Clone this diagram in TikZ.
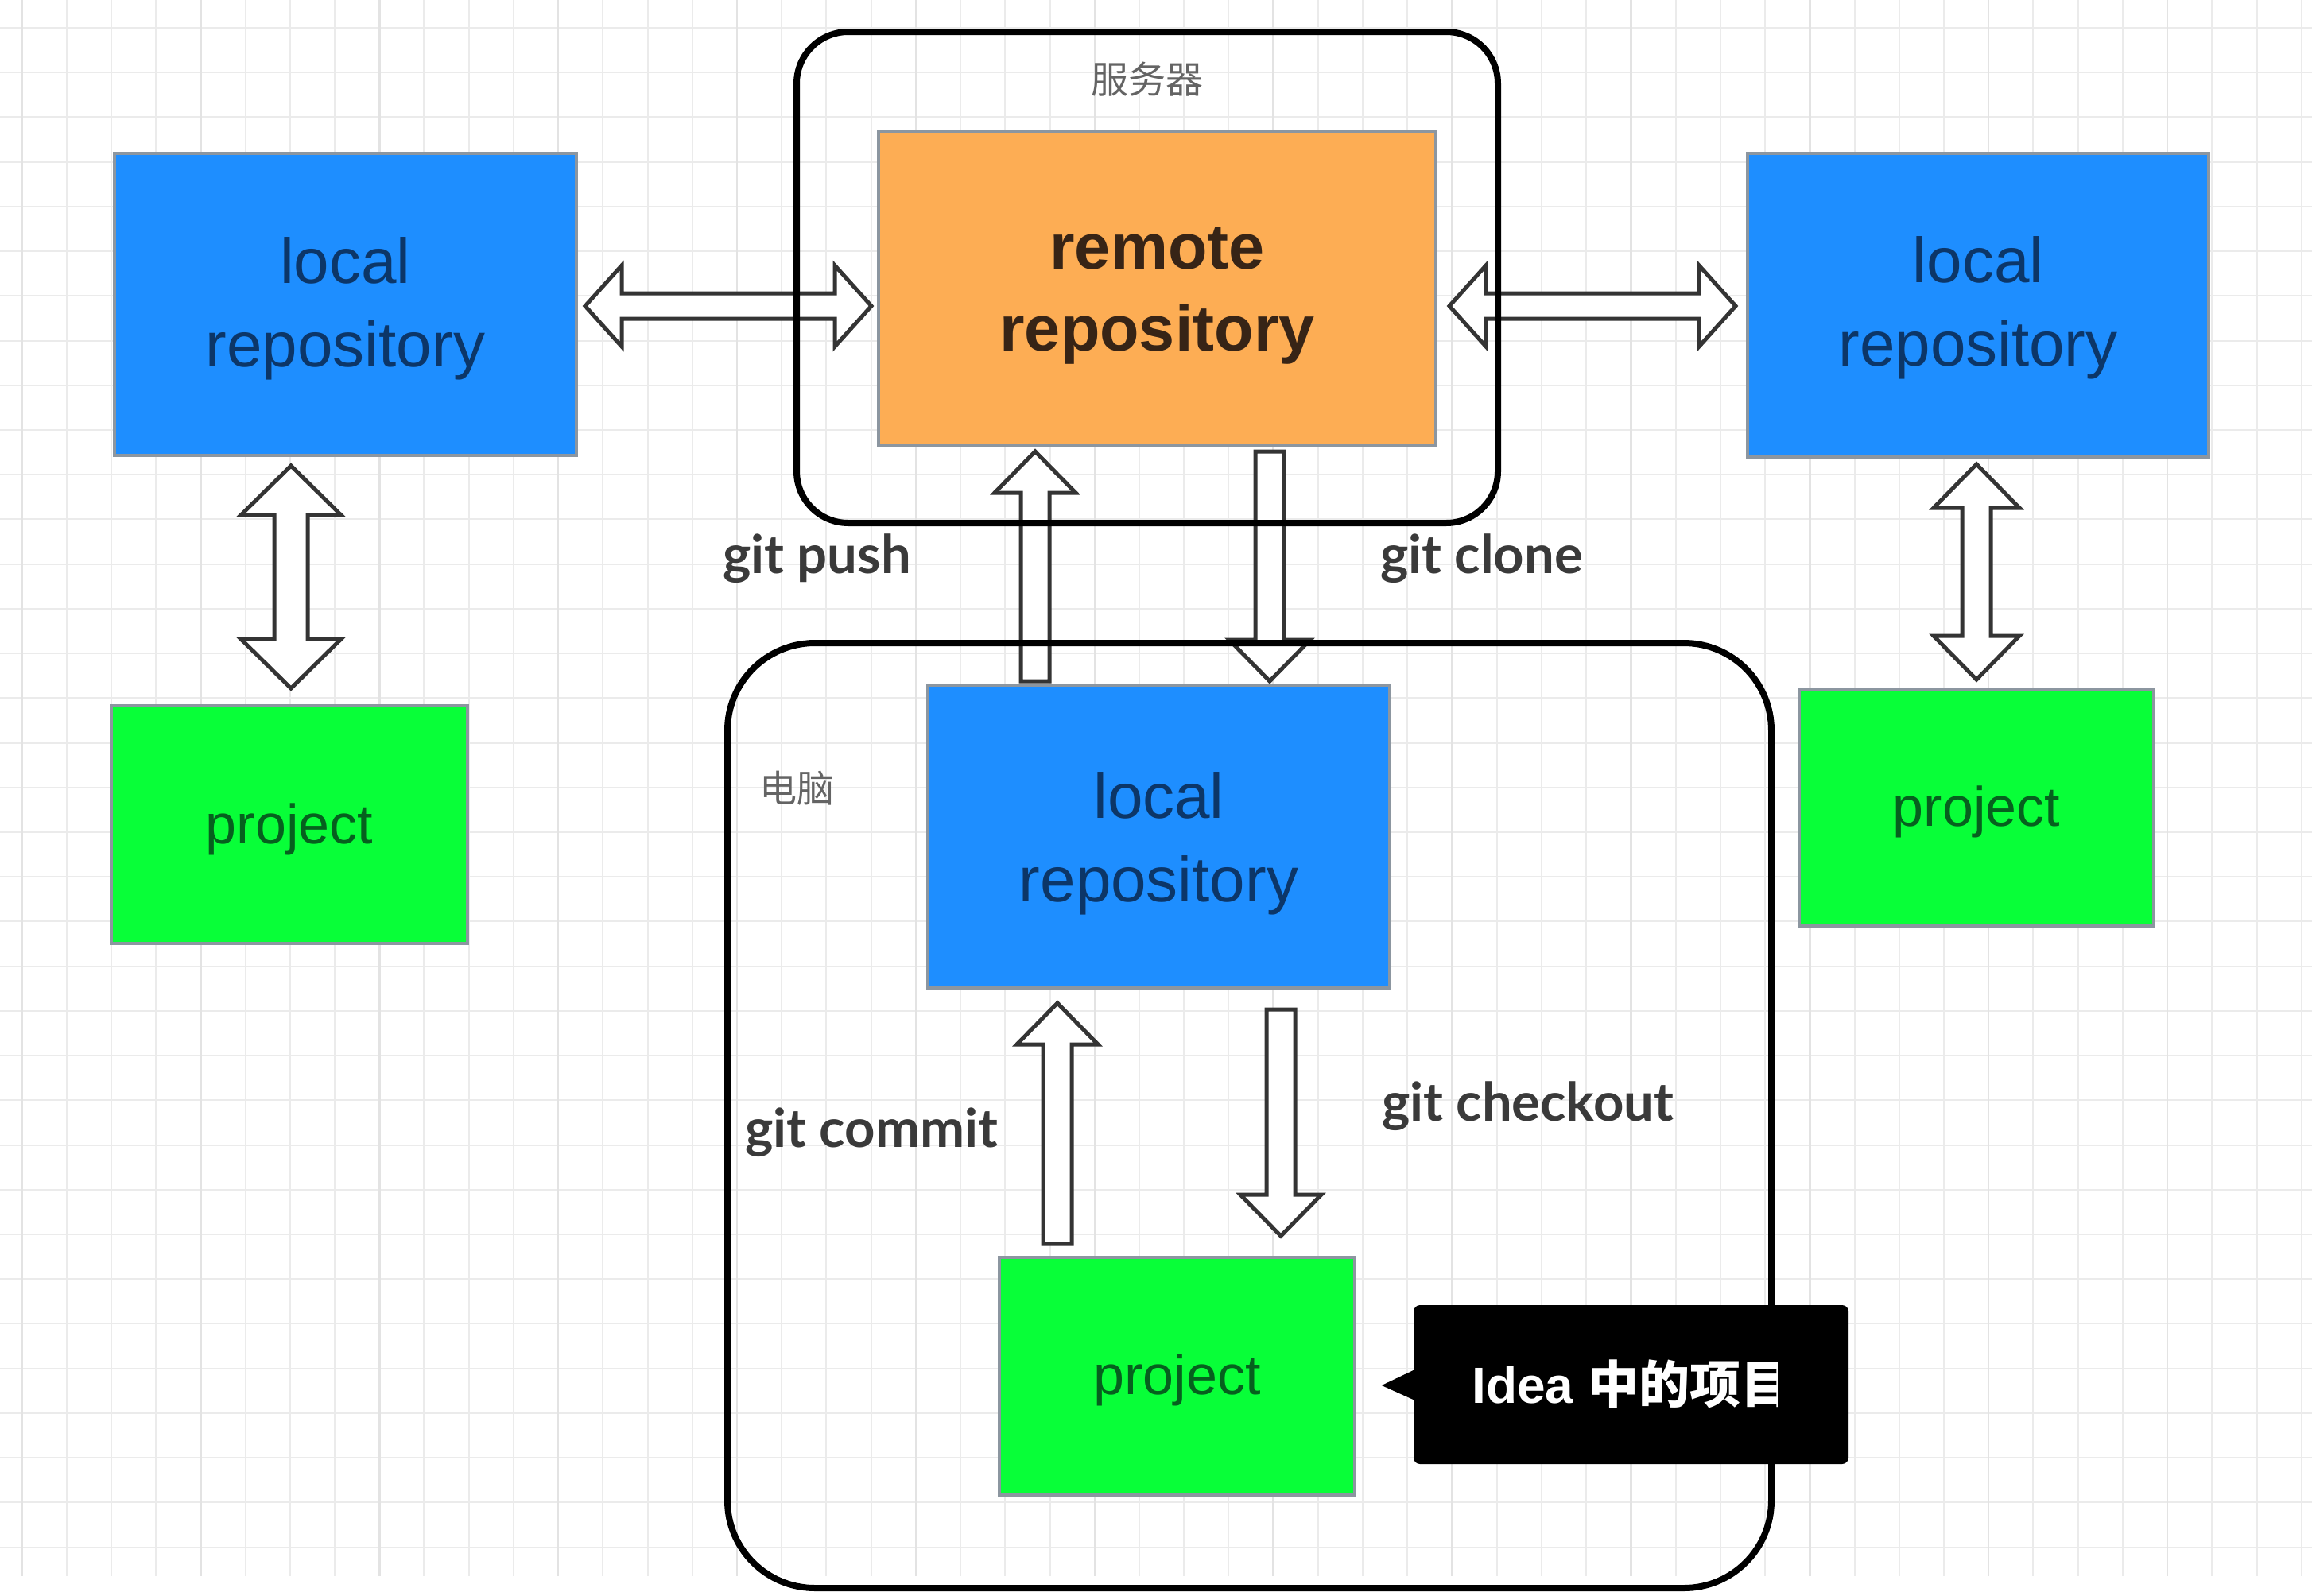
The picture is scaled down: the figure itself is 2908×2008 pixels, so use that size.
\documentclass[tikz,border=0pt]{standalone}
\usepackage{fontspec}
\setmainfont{Liberation Sans}
\newfontfamily\cjkfont{Noto Sans CJK SC}
\newfontfamily\labelfont{Lato}
\usetikzlibrary{calc}

\definecolor{repoblue}{RGB}{30,142,255}
\definecolor{remoteorange}{RGB}{253,173,84}
\definecolor{projgreen}{RGB}{8,255,56}
\definecolor{bluetext}{RGB}{12,54,104}
\definecolor{greentext}{RGB}{6,96,30}
\definecolor{orangetext}{RGB}{55,36,22}
\definecolor{boxedge}{RGB}{140,150,160}
\definecolor{arrowedge}{RGB}{52,52,52}
\definecolor{gridminor}{RGB}{235,235,235}
\definecolor{gridmajor}{RGB}{227,227,227}
\definecolor{labelgray}{RGB}{58,58,58}
\definecolor{capgray}{RGB}{100,100,100}

\tikzset{
  box/.style={rectangle, draw=boxedge, line width=4pt, inner sep=0pt},
  repobox/.style={box, fill=repoblue},
  remotebox/.style={box, fill=remoteorange},
  projbox/.style={box, fill=projgreen},
  repotext/.style={inner sep=0pt, align=center, text=bluetext,
    font=\fontsize{80}{105}\selectfont},
  remotetext/.style={inner sep=0pt, align=center, text=orangetext,
    font=\fontsize{81}{103}\selectfont\bfseries},
  projtext/.style={inner sep=0pt, text=greentext,
    font=\fontsize{70}{84}\selectfont},
  frame/.style={rectangle, draw=black, line width=8pt, inner sep=0pt},
  blockarrow/.style={draw=arrowedge, line width=5pt, fill=white, line join=miter},
  gitlabel/.style={anchor=base west, inner sep=0pt, text=labelgray,
    font=\labelfont\bfseries\fontsize{67}{80}\selectfont},
  caption/.style={inner sep=0pt, text=capgray,
    font=\cjkfont\fontsize{47}{56}\selectfont},
  gridminorline/.style={draw=gridminor, line width=2pt},
  gridmajorline/.style={draw=gridmajor, line width=2.5pt},
}

% arrow geometry: half shaft width, half head width, head length
\def\sw{18pt}
\def\hw{51pt}
\def\hl{52pt}

% hollow block arrow from tail #1 to tip #2
\newcommand\singlearrow[2]{%
  \coordinate (hb) at ($(#2)!\hl!(#1)$);
  \draw[blockarrow]
    ($(#1)!\sw!90:(#2)$) -- ($(hb)!\sw!90:(#2)$) -- ($(hb)!\hw!90:(#2)$) --
    (#2) --
    ($(hb)!\hw!-90:(#2)$) -- ($(hb)!\sw!-90:(#2)$) -- ($(#1)!\sw!-90:(#2)$) -- cycle;
}
% hollow block arrow with heads at both #1 and #2
\newcommand\doublearrow[2]{%
  \coordinate (hba) at ($(#1)!\hl!(#2)$);
  \coordinate (hbb) at ($(#2)!\hl!(#1)$);
  \draw[blockarrow]
    (#1) -- ($(hba)!\hw!90:(#2)$) -- ($(hba)!\sw!90:(#2)$) --
    ($(hbb)!\sw!90:(#2)$) -- ($(hbb)!\hw!90:(#2)$) --
    (#2) --
    ($(hbb)!\hw!-90:(#2)$) -- ($(hbb)!\sw!-90:(#2)$) --
    ($(hba)!\sw!-90:(#2)$) -- ($(hba)!\hw!-90:(#2)$) -- cycle;
}

\begin{document}
\begin{tikzpicture}[x=1pt, y=-1pt]
  \useasboundingbox (0,0) rectangle (2908,2008);
  \fill[white] (0,0) rectangle (2908,2008);

  % background grid
  \foreach \i in {0,...,51} {
    \pgfmathsetmacro\gx{27.5+56.22*\i}
    \draw[gridminorline] (\gx,0) -- (\gx,1983);
  }
  \foreach \j in {0,...,34} {
    \pgfmathsetmacro\gy{35+56.22*\j}
    \draw[gridminorline] (0,\gy) -- (2908,\gy);
  }
  \foreach \i in {0,4,...,48} {
    \pgfmathsetmacro\gx{27.5+56.22*\i}
    \draw[gridmajorline] (\gx,0) -- (\gx,1983);
  }

  % repositories and projects
  \node[repobox, minimum width=581pt, minimum height=380pt] (ll) at (434.5,383) {};
  \node[repobox, minimum width=580pt, minimum height=382pt] (rl) at (2488,384) {};
  \node[repobox, minimum width=581pt, minimum height=381pt] (ml) at (1457.5,1052.5) {};
  \node[remotebox, minimum width=701pt, minimum height=395pt] (rem) at (1455.5,362.5) {};
  \node[projbox, minimum width=448pt, minimum height=299pt] (lp) at (364,1037.5) {};
  \node[projbox, minimum width=446pt, minimum height=298pt] (rp) at (2486,1016) {};
  \node[projbox, minimum width=447pt, minimum height=299pt] (mp) at (1480.5,1731.5) {};

  \node[repotext] (lltext) at ($(ll.center)+(0,5)$) {local\\repository};
  \node[repotext] (rltext) at ($(rl.center)+(0,3)$) {local\\repository};
  \node[repotext] (mltext) at ($(ml.center)+(0,9)$) {local\\repository};
  \node[remotetext] (remtext) at ($(rem.center)+(0,9)$) {remote\\repository};
  \node[projtext] (lptext) at ($(lp.center)+(0,6)$) {project};
  \node[projtext] (rptext) at ($(rp.center)+(0,5)$) {project};
  \node[projtext] (mptext) at ($(mp.center)+(0,5)$) {project};

  % arrow end points
  \coordinate (a1) at ($(ll.east)+(9,2)$);
  \coordinate (a2) at ($(a1 -| rem.west)+(-7,0)$);
  \coordinate (b1) at ($(rl.west)+(-13,1)$);
  \coordinate (b2) at ($(b1 -| rem.east)+(15,0)$);
  \coordinate (c1) at ($(lp.north)+(2,-20)$);
  \coordinate (c2) at ($(c1 |- ll.south)+(0,11)$);
  \coordinate (d1) at ($(rp.north)+(0,-10)$);
  \coordinate (d2) at ($(d1 |- rl.south)+(0,7)$);
  \coordinate (pushtail) at ($(ml.north west)+(137,-3)$);
  \coordinate (pushtip) at ($(pushtail |- rem.south)+(0,6)$);
  \coordinate (clonetail) at ($(rem.south west)+(494,6)$);
  \coordinate (clonetip) at ($(clonetail |- ml.north)+(0,-3)$);
  \coordinate (committip) at ($(ml.south west)+(165,17)$);
  \coordinate (committail) at ($(committip |- mp.north)+(0,-15)$);
  \coordinate (cotail) at ($(ml.south west)+(446,25)$);
  \coordinate (cotip) at ($(cotail |- mp.north)+(0,-25)$);

  % connectors
  \begingroup
    \def\sw{16pt}\def\hl{46pt}
    \doublearrow{a1}{a2}
    \doublearrow{b1}{b2}
  \endgroup
  \begingroup
    \def\sw{21pt}\def\hw{63pt}\def\hl{62pt}
    \doublearrow{c2}{c1}
  \endgroup
  \begingroup
    \def\hw{54pt}\def\hl{55pt}
    \doublearrow{d2}{d1}
  \endgroup
  \singlearrow{pushtail}{pushtip}
  \singlearrow{clonetail}{clonetip}
  \singlearrow{committail}{committip}
  \singlearrow{cotail}{cotip}

  % server and computer frames
  \node[frame, rounded corners=65pt, minimum width=882pt, minimum height=618pt] (server) at (1443,349) {};
  \node[frame, rounded corners=110pt, minimum width=1313pt, minimum height=1189pt] (pc) at (1571.5,1403.5) {};
  \node[caption] (serverlabel) at (1443,100) {服务器};
  \node[caption] (pclabel) at (1002,992) {电脑};

  % command labels
  \node[gitlabel] (push) at (909,721) {git push};
  \node[gitlabel] (clone) at (1736,721) {git clone};
  \node[gitlabel] (commit) at (937,1443) {git commit};
  \node[gitlabel] (checkout) at (1738,1410) {git checkout};

  % callout
  \node[rectangle, fill=black, rounded corners=8pt, inner sep=0pt,
        minimum width=547pt, minimum height=200pt] (callout) at (2051.5,1742) {};
  \coordinate (ptip) at ($(callout.west)+(-40,1)$);
  \fill[black] (ptip) -- ($(callout.west)+(2,-19)$) -- ($(callout.west)+(2,20)$) -- cycle;
  \begin{scope}
    \clip (callout.south west) rectangle ($(callout.north west)+(458,0)$);
    \node[anchor=base west, inner sep=0pt, text=white,
          font=\fontsize{64}{76}\selectfont\bfseries] (idea) at (1851,1765)
          {Idea {\cjkfont 中的项目}};
  \end{scope}
\end{tikzpicture}
\end{document}
